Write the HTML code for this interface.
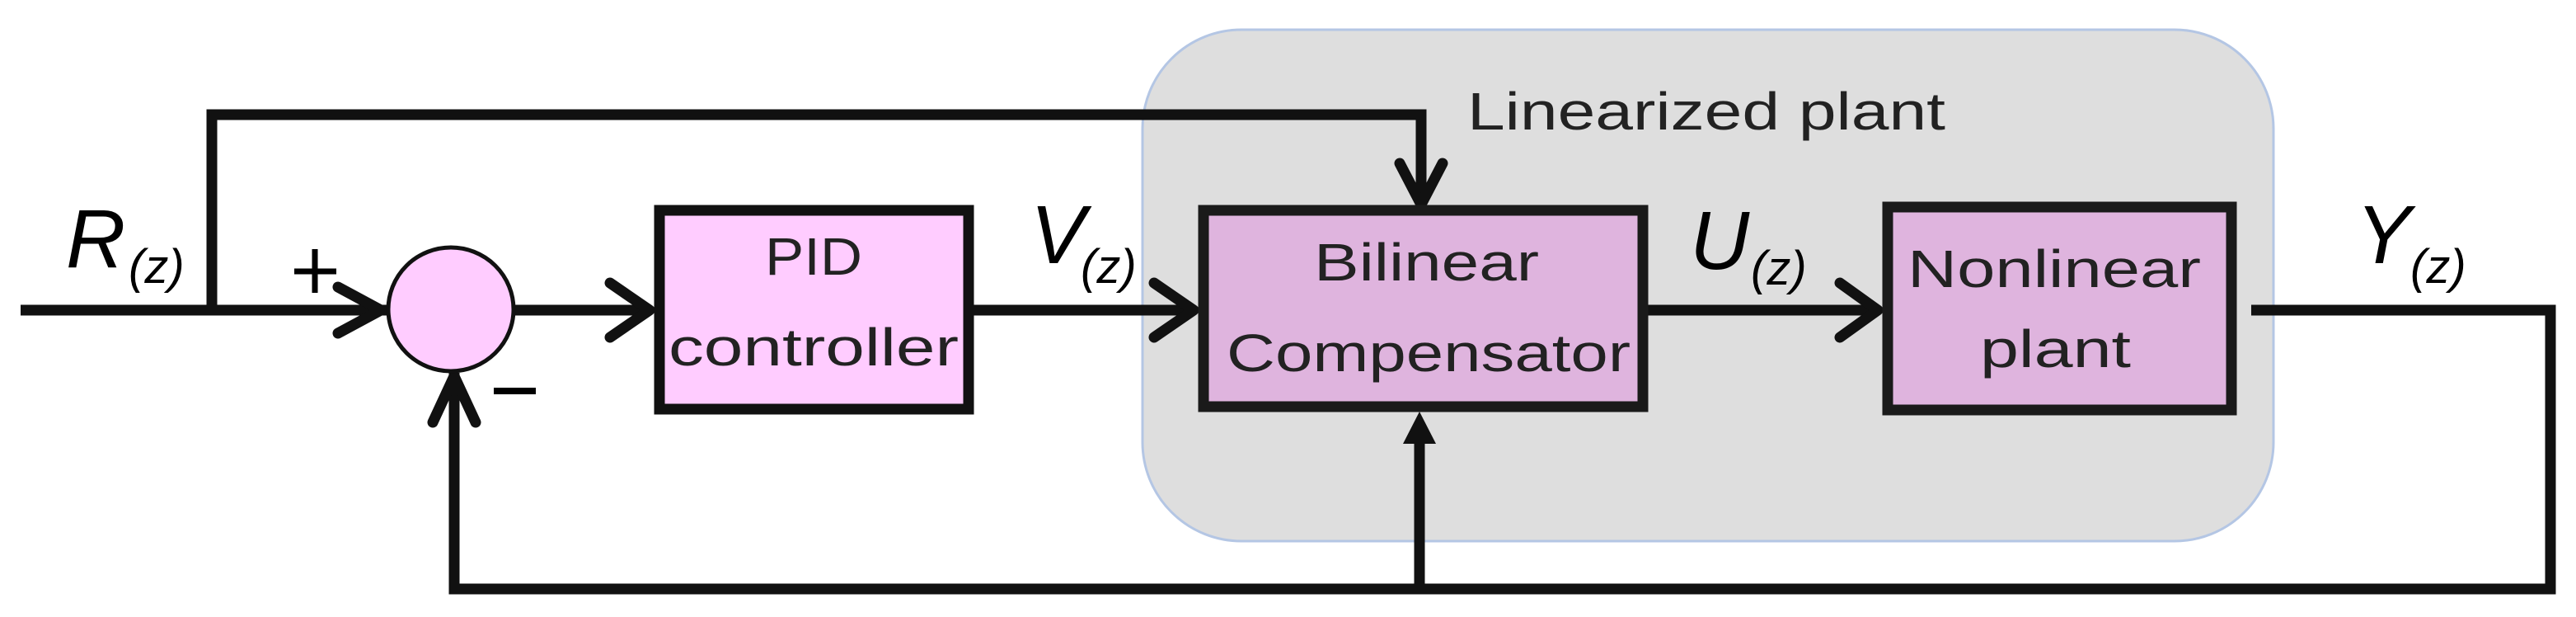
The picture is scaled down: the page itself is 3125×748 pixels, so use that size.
<!DOCTYPE html>
<html><head><meta charset="utf-8"><style>html,body{margin:0;padding:0;background:#fff}svg{display:block}</style></head>
<body>
<svg width="3125" height="748" viewBox="0 0 3125 748" xmlns="http://www.w3.org/2000/svg" font-family="Liberation Sans, sans-serif">
<rect x="1386" y="36" width="1372" height="620" rx="120" ry="120" fill="#dedede" stroke="#b4c6e4" stroke-width="3"/>
<g stroke="#111" stroke-width="13" fill="none" stroke-linejoin="miter">
<polyline points="25,376 469,376"/>
<polyline points="257,376 257,139 1724,139 1724,245"/>
<polyline points="624,376 790,376"/>
<polyline points="1181,376 1450,376"/>
<polyline points="1999,376 2280,376"/>
<polyline points="2731,376 3094,376 3094,714 551,714 551,452"/>
<polyline points="1722,714 1722,530"/>
</g>
<g stroke="#111" stroke-width="13" fill="none" stroke-linecap="round" stroke-linejoin="round">
<polyline points="410,348 462,376 410,404"/>
<polyline points="740,343 788,376 740,409"/>
<polyline points="1400,343 1448,376 1400,409"/>
<polyline points="2232,343 2278,376 2232,409"/>
<polyline points="1698,198 1724,248 1750,198"/>
<polyline points="525,512 551,456 577,512"/>
</g>
<polygon points="1722,499 1702,538 1742,538" fill="#111"/>
<ellipse cx="547" cy="375" rx="76" ry="75" fill="#ffccff" stroke="#111" stroke-width="5"/>
<rect x="800" y="255" width="375" height="241" fill="#ffccff" stroke="#111" stroke-width="13"/>
<rect x="1460" y="255" width="533" height="238" fill="#dfb4de" stroke="#1a1a1a" stroke-width="13"/>
<rect x="2290" y="251" width="417" height="246" fill="#dfb4de" stroke="#1a1a1a" stroke-width="13"/>
<g fill="#222" font-size="64">
<text x="928" y="333" textLength="118" lengthAdjust="spacingAndGlyphs">PID</text>
<text x="811" y="443" textLength="352" lengthAdjust="spacingAndGlyphs">controller</text>
<text x="1594" y="340" textLength="273" lengthAdjust="spacingAndGlyphs">Bilinear</text>
<text x="1488" y="450" textLength="490" lengthAdjust="spacingAndGlyphs">Compensator</text>
<text x="2314" y="348" textLength="356" lengthAdjust="spacingAndGlyphs">Nonlinear</text>
<text x="2402" y="445" textLength="183" lengthAdjust="spacingAndGlyphs">plant</text>
<text x="1780" y="157" textLength="580" lengthAdjust="spacingAndGlyphs">Linearized plant</text>
</g>
<g fill="#000" font-style="italic">
<text x="80" y="324" font-size="100">R</text><text x="156" y="343" font-size="58">(z)</text>
<text x="1250" y="319" font-size="100">V</text><text x="1311" y="343" font-size="58">(z)</text>
<text x="2050" y="326" font-size="100">U</text><text x="2124" y="345" font-size="58">(z)</text>
<text x="2858" y="319" font-size="100">Y</text><text x="2924" y="343" font-size="58">(z)</text>
</g>
<g stroke="#000" stroke-width="7">
<line x1="357" y1="329" x2="408" y2="329"/><line x1="382" y1="302" x2="382" y2="355"/>
<line x1="599" y1="474" x2="650" y2="474" stroke-width="8"/>
</g>
</svg>
</body></html>
